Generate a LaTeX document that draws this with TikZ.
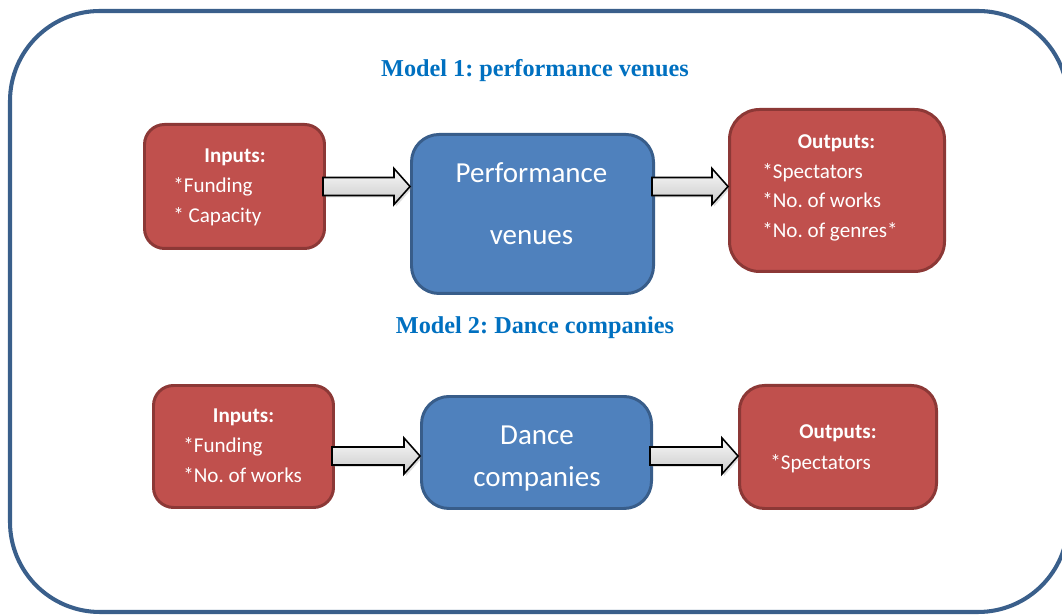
\documentclass[tikz,border=0pt]{standalone}
\usepackage{fontspec}
\setmainfont{Carlito}
\newfontfamily\titlefont{Liberation Serif}
\usepackage{tikz}
\usetikzlibrary{positioning,calc,shadows}
\frenchspacing

\definecolor{boxred}{HTML}{C0504D}
\definecolor{boxredline}{HTML}{8C3836}
\definecolor{boxblue}{HTML}{4F81BD}
\definecolor{boxblueline}{HTML}{385D8A}
\definecolor{titleblue}{HTML}{0070C0}
\definecolor{frameblue}{HTML}{3A5F8B}

\tikzset{
  redbox/.style={draw=boxredline, fill=boxred, line width=1.7pt, rounded corners=0.4cm},
  bluebox/.style={draw=boxblueline, fill=boxblue, line width=1.7pt, rounded corners=0.55cm},
  head/.style={text=white, font=\fontsize{12}{14}\selectfont\bfseries, anchor=base, inner sep=0},
  item/.style={text=white, font=\fontsize{12}{14}\selectfont, anchor=base west, inner sep=0},
  bigtext/.style={text=white, font=\fontsize{16.5}{19}\selectfont, anchor=base, inner sep=0},
  modeltitle/.style={text=titleblue, font=\titlefont\fontsize{13.8}{16}\selectfont\bfseries, anchor=base, inner sep=0},
  blockarrow/.style={draw=black, line width=0.9pt, line join=miter, top color=gray!5, bottom color=gray!42,
    drop shadow={shadow xshift=0.04cm, shadow yshift=-0.04cm, opacity=0.25}},
  frame/.style={draw=frameblue, line width=2.3pt, rounded corners=1.8cm}
}

% fat grey arrow from #1 to #2 (both on one horizontal line)
\newcommand{\blockarrow}[2]{%
  \draw[blockarrow] ($(#1)+(-0.06,0.18)$) -- ($(#2)+(-0.32,0.18)$) -- ($(#2)+(-0.32,0.36)$)
    -- (#2) -- ($(#2)+(-0.32,-0.36)$) -- ($(#2)+(-0.32,-0.18)$) -- ($(#1)+(-0.06,-0.18)$) -- cycle;}

\begin{document}
\begin{tikzpicture}
  \useasboundingbox (0,0) rectangle (21.24,12.3);
  \draw[frame] (0.2,0.06) rectangle (21.36,12.08);

  % model 1
  \node[modeltitle] (title1) at (10.70,10.76) {Model 1: performance venues};

  \node[redbox, minimum width=3.6cm, minimum height=2.48cm] (in1) at (4.69,8.57) {};
  \node[bluebox, minimum width=4.84cm, minimum height=3.18cm] (perf) at (10.65,8.02) {};
  \node[redbox, rounded corners=0.6cm, minimum width=4.3cm, minimum height=3.24cm] (out1) at (16.74,8.49) {};

  \node[head] (in1h) at (4.70,9.04) {Inputs:};
  \node[item] (in1a) at (3.46,8.44) {*Funding};
  \node[item] (in1b) at (3.46,7.84) {* Capacity};

  \node[bigtext] (perf1) at (10.63,8.64) {Performance};
  \node[bigtext] (perf2) at (10.63,7.40) {venues};

  \node[head] (out1h) at (16.73,9.32) {Outputs:};
  \node[item] (out1a) at (15.24,8.72) {*Spectators};
  \node[item] (out1b) at (15.24,8.14) {*No. of works};
  \node[item] (out1c) at (15.24,7.54) {*No. of genres*};

  \coordinate (a1s) at (in1.east);
  \coordinate (a1t) at (perf.west |- a1s);
  \coordinate (a2s) at (perf.east |- a1s);
  \coordinate (a2t) at (out1.west |- a1s);
  \blockarrow{a1s}{a1t}
  \blockarrow{a2s}{a2t}

  % model 2
  \node[modeltitle] (title2) at (10.70,5.62) {Model 2: Dance companies};

  \node[redbox, minimum width=3.6cm, minimum height=2.44cm] (in2) at (4.87,3.37) {};
  \node[bluebox, minimum width=4.6cm, minimum height=2.24cm] (dance) at (10.73,3.25) {};
  \node[redbox, rounded corners=0.5cm, minimum width=3.94cm, minimum height=2.46cm] (out2) at (16.76,3.36) {};

  \node[head] (in2h) at (4.87,3.84) {Inputs:};
  \node[item] (in2a) at (3.66,3.24) {*Funding};
  \node[item] (in2b) at (3.66,2.64) {*No. of works};

  \node[bigtext] (dance1) at (10.74,3.40) {Dance};
  \node[bigtext] (dance2) at (10.74,2.56) {companies};

  \node[head] (out2h) at (16.76,3.52) {Outputs:};
  \node[item] (out2a) at (15.40,2.90) {*Spectators};

  \coordinate (a3s) at (in2.east |- 0,3.18);
  \coordinate (a3t) at (dance.west |- a3s);
  \coordinate (a4s) at (dance.east |- a3s);
  \coordinate (a4t) at (out2.west |- a3s);
  \blockarrow{a3s}{a3t}
  \blockarrow{a4s}{a4t}
\end{tikzpicture}
\end{document}
